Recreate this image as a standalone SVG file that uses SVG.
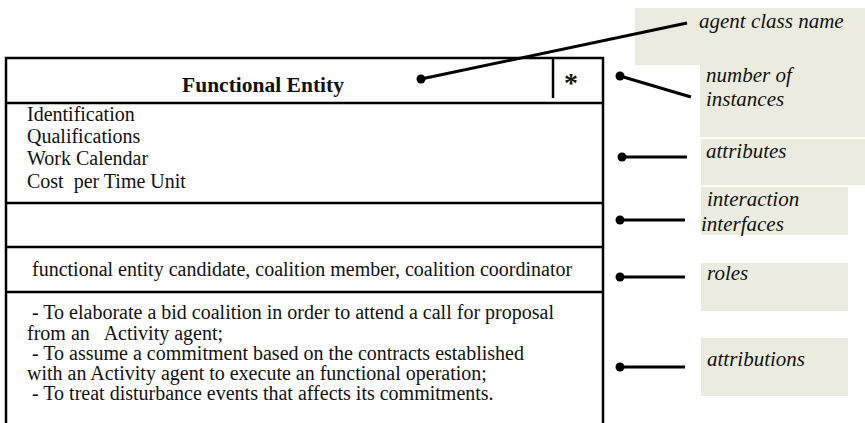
<svg xmlns="http://www.w3.org/2000/svg" width="865" height="423" viewBox="0 0 865 423">
  <style>
    .rule { stroke: #000; stroke-width: 2.5; fill: none; }
    .body { font-family: "Liberation Serif", "Times New Roman", serif; font-size: 20px; fill: #111; }
    .title { font-family: "Liberation Serif", "Times New Roman", serif; font-size: 21.5px; font-weight: bold; fill: #111; }
    .mult { font-family: "Liberation Serif", "Times New Roman", serif; font-size: 28px; font-weight: bold; fill: #111; }
    .note { fill: #EBEBDF; }
    .label { font-family: "Liberation Serif", "Times New Roman", serif; font-size: 21px; font-style: italic; fill: #111; }
    .lead { stroke: #000; stroke-width: 3; fill: none; }
    .dot { fill: #000; }
  </style>

  <rect width="865" height="423" fill="#fff"/>

  <!-- annotation callouts -->
  <g id="label-agent-class-name">
    <rect class="note" x="635" y="8" width="230" height="57"/>
    <text class="label" x="699" y="28">agent class name</text>
  </g>
  <g id="label-number-of-instances">
    <rect class="note" x="700" y="65" width="165" height="72"/>
    <text class="label" x="706" y="82">number of</text>
    <text class="label" x="706" y="106">instances</text>
  </g>
  <g id="label-attributes">
    <rect class="note" x="701" y="139" width="164" height="46"/>
    <text class="label" x="706" y="158">attributes</text>
  </g>
  <g id="label-interaction-interfaces">
    <rect class="note" x="701" y="187" width="147" height="48"/>
    <text class="label" x="707" y="206">interaction</text>
    <text class="label" x="701" y="231">interfaces</text>
  </g>
  <g id="label-roles">
    <rect class="note" x="701" y="263" width="147" height="48"/>
    <text class="label" x="707" y="280">roles</text>
  </g>
  <g id="label-attributions">
    <rect class="note" x="701" y="338" width="147" height="58"/>
    <text class="label" x="707" y="366">attributions</text>
  </g>

  <!-- agent class box -->
  <g id="functional-entity">
    <path class="rule" d="M6 423 V58 H603 V423"/>
    <line class="rule" x1="553" y1="58" x2="553" y2="98"/>
    <line class="rule" x1="6" y1="103" x2="603" y2="103"/>
    <line class="rule" x1="6" y1="203" x2="603" y2="203"/>
    <line class="rule" x1="6" y1="247" x2="603" y2="247"/>
    <line class="rule" x1="6" y1="292" x2="603" y2="292"/>

    <text class="title" x="263" y="92" text-anchor="middle">Functional Entity</text>
    <text class="mult" x="571" y="92" text-anchor="middle">*</text>

    <text class="body" x="27" y="121">Identification</text>
    <text class="body" x="27" y="143">Qualifications</text>
    <text class="body" x="27" y="165">Work Calendar</text>
    <text class="body" x="27" y="188" xml:space="preserve">Cost  per Time Unit</text>

    <text class="body" x="32" y="276">functional entity candidate, coalition member, coalition coordinator</text>

    <text class="body" x="32" y="319">- To elaborate a bid coalition in order to attend a call for proposal</text>
    <text class="body" x="27" y="339.5" xml:space="preserve">from an   Activity agent;</text>
    <text class="body" x="32" y="360">- To assume a commitment based on the contracts established</text>
    <text class="body" x="27" y="380">with an Activity agent to execute an functional operation;</text>
    <text class="body" x="32" y="400">- To treat disturbance events that affects its commitments.</text>
  </g>

  <!-- leader lines from the box to the callouts -->
  <g id="connectors">
    <line class="lead" x1="421" y1="79" x2="687" y2="23"/>
    <circle class="dot" cx="421" cy="79" r="4.5"/>
    <line class="lead" x1="620" y1="76" x2="691" y2="97"/>
    <circle class="dot" cx="620" cy="76" r="4.5"/>
    <line class="lead" x1="622" y1="157" x2="687" y2="157"/>
    <circle class="dot" cx="622" cy="157" r="4.5"/>
    <line class="lead" x1="620" y1="220" x2="685" y2="220"/>
    <circle class="dot" cx="620" cy="220" r="4.5"/>
    <line class="lead" x1="620" y1="277" x2="685" y2="277"/>
    <circle class="dot" cx="620" cy="277" r="4.5"/>
    <line class="lead" x1="620" y1="367" x2="685" y2="367"/>
    <circle class="dot" cx="620" cy="367" r="4.5"/>
  </g>
</svg>
